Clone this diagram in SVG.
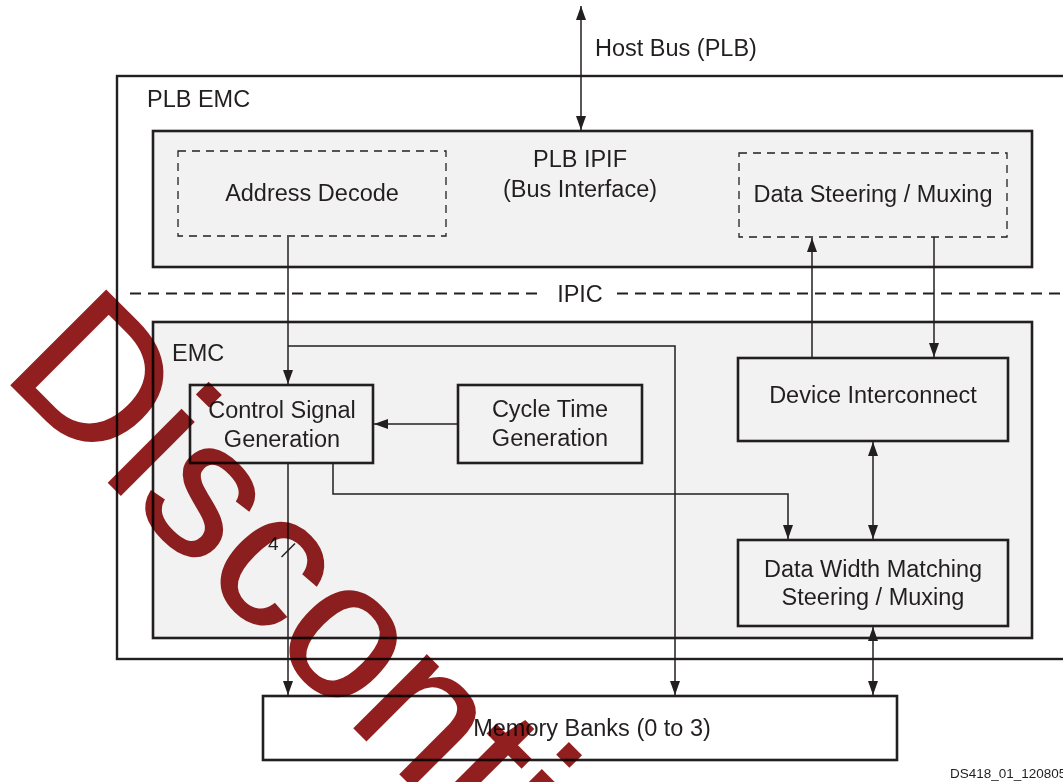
<svg xmlns="http://www.w3.org/2000/svg" width="1063" height="782" viewBox="0 0 1063 782">
<defs>
<marker id="ah" viewBox="0 0 14 10" refX="14" refY="5" markerWidth="14" markerHeight="10" markerUnits="userSpaceOnUse" orient="auto-start-reverse">
<path d="M0,0 L14,5 L0,10 z" fill="#231f20"/>
</marker>
<style>
text{font-family:"Liberation Sans",Arial,sans-serif;font-size:23.5px;fill:#231f20}
.c{text-anchor:middle}
.box{fill:#f2f2f2;stroke:#231f20;stroke-width:2.6}
.dash{fill:none;stroke:#231f20;stroke-width:1.3;stroke-dasharray:8 6}
.ln{fill:none;stroke:#231f20;stroke-width:1.5}
.arr{marker-end:url(#ah)}
.bi{marker-start:url(#ah);marker-end:url(#ah)}
</style>
</defs>
<rect width="1063" height="782" fill="#ffffff"/>
<g id="plb_emc">
<rect x="117" y="76" width="960" height="583" fill="#ffffff" stroke="#231f20" stroke-width="2.4"/>
<text x="147" y="107">PLB EMC</text>
</g>
<g id="plb_ipif">
<rect class="box" x="153" y="131" width="879" height="136"/>
<text class="c" x="580" y="167">PLB IPIF</text>
<text class="c" x="580" y="197">(Bus Interface)</text>
</g>
<g id="address_decode">
<rect class="dash" x="178" y="151" width="268" height="85"/>
<text class="c" x="312" y="201">Address Decode</text>
</g>
<g id="data_steering">
<rect class="dash" x="739" y="153" width="268" height="84"/>
<text class="c" x="873" y="202">Data Steering / Muxing</text>
</g>
<g id="ipic">
<line x1="130" y1="293.5" x2="538" y2="293.5" stroke="#231f20" stroke-width="2" stroke-dasharray="11 7"/>
<line x1="617" y1="293.5" x2="1063" y2="293.5" stroke="#231f20" stroke-width="2" stroke-dasharray="11 7"/>
<text class="c" x="580" y="302">IPIC</text>
</g>
<g id="emc">
<rect class="box" x="153" y="322" width="879" height="316"/>
<text x="172" y="361">EMC</text>
</g>
<g id="control_signal_generation">
<rect class="box" x="190" y="385" width="183" height="78"/>
<text class="c" x="282" y="418">Control Signal</text>
<text class="c" x="282" y="447">Generation</text>
</g>
<g id="cycle_time_generation">
<rect class="box" x="458" y="385" width="184" height="78"/>
<text class="c" x="550" y="417">Cycle Time</text>
<text class="c" x="550" y="446">Generation</text>
</g>
<g id="device_interconnect">
<rect class="box" x="738" y="358" width="270" height="83"/>
<text class="c" x="873" y="403">Device Interconnect</text>
</g>
<g id="data_width_matching">
<rect class="box" x="738" y="540" width="270" height="86"/>
<text class="c" x="873" y="577">Data Width Matching</text>
<text class="c" x="873" y="605">Steering / Muxing</text>
</g>
<g id="memory_banks">
<rect x="263" y="696" width="634" height="64" fill="#ffffff" stroke="#231f20" stroke-width="2.6"/>
<text class="c" x="592" y="736">Memory Banks (0 to 3)</text>
</g>
<g id="connectors">
<line class="ln bi" x1="581" y1="6" x2="581" y2="130"/>
<text x="595" y="56">Host Bus (PLB)</text>
<line class="ln arr" x1="288" y1="237" x2="288" y2="384"/>
<path class="ln arr" d="M288,346 H675 V695"/>
<line class="ln arr" x1="458" y1="424" x2="374" y2="424"/>
<path class="ln arr" d="M333,463 V494 H788 V539"/>
<line class="ln arr" x1="288" y1="463" x2="288" y2="695"/>
<line class="ln" x1="281.5" y1="557" x2="295" y2="543.5"/>
<text x="268" y="550" style="font-size:19px">4</text>
<line class="ln arr" x1="812" y1="357" x2="812" y2="238"/>
<line class="ln arr" x1="934" y1="237" x2="934" y2="357"/>
<line class="ln bi" x1="873" y1="442" x2="873" y2="539"/>
<line class="ln bi" x1="873" y1="627" x2="873" y2="695"/>
</g>
<text x="950" y="778" style="font-size:13.5px">DS418_01_120805</text>
<g id="watermark" style="mix-blend-mode:multiply">
<text transform="translate(0,374) rotate(45)" style="font-size:195px;fill:#921f1f;stroke:#921f1f;stroke-width:1.5">Discontinued</text>
</g>
</svg>
